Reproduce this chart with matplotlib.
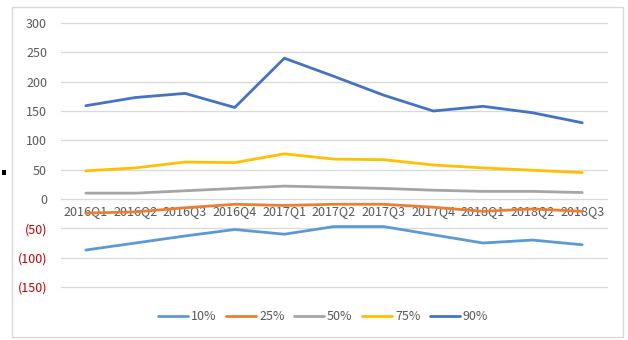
import matplotlib
matplotlib.use("Agg")
import matplotlib.pyplot as plt
from matplotlib.patches import Rectangle

categories = ["2016Q1", "2016Q2", "2016Q3", "2016Q4", "2017Q1", "2017Q2",
              "2017Q3", "2017Q4", "2018Q1", "2018Q2", "2018Q3"]
p10 = [-87, -75, -63, -52, -60, -47, -47, -61, -75, -70, -78]
p25 = [-24, -22, -15, -9, -11, -9, -9, -14, -21, -17, -21]
p50 = [10, 10, 14, 18, 22, 20, 18, 15, 13, 13, 11]
p75 = [48, 53, 63, 62, 77, 68, 67, 58, 53, 49, 45]
p90 = [159, 173, 180, 156, 240, 209, 177, 150, 158, 147, 130]
series_names = ["10%", "25%", "50%", "75%", "90%"]
colors = ["#5B9BD5", "#ED7D31", "#A5A5A5", "#FFC000", "#4472C4"]
yticks = [-150, -100, -50, 0, 50, 100, 150, 200, 250, 300]

plt.rcParams['font.family'] = ['Noto Sans CJK SC', 'DejaVu Sans']

fig = plt.figure(figsize=(6.28, 3.40), dpi=100)
fig.patch.set_facecolor("white")
# outer chart border
fig.patches.append(Rectangle((12/628, 1-337/340), (623-12)/628, (337-7)/340,
                             transform=fig.transFigure, fill=False,
                             edgecolor="#D9D9D9", linewidth=1.0))
fig.patches.append(Rectangle((2/628, 1-175/340), 4/628, 5/340,
                             transform=fig.transFigure, facecolor="black",
                             edgecolor="none"))

ax = fig.add_axes([61/628, 1-287/340, (607-61)/628, (287-23)/340])
x = list(range(len(categories)))
for vals, name, c in zip([p10, p25, p50, p75, p90], series_names, colors):
    ax.plot(x, vals, color=c, linewidth=2.0, label=name, solid_capstyle="round",
            solid_joinstyle="round")

ax.set_xlim(-0.5, len(categories) - 0.5)
ax.set_ylim(-150, 300)
ax.set_yticks(yticks)
ax.set_yticklabels([f"({abs(v)})" if v < 0 else str(v) for v in yticks])
for lbl, v in zip(ax.get_yticklabels(), yticks):
    lbl.set_color("#C00000" if v < 0 else "#595959")
ax.grid(axis="y", color="#D9D9D9", linewidth=0.9)
for gl in ax.get_ygridlines():
    gl.set_clip_on(False)
ax.set_axisbelow(True)
for s in ["top", "right", "left"]:
    ax.spines[s].set_visible(False)
ax.spines["bottom"].set_position(("data", 0))
ax.spines["bottom"].set_color("#D9D9D9")
ax.set_xticks(x)
ax.set_xticklabels(categories)
ax.tick_params(axis="x", length=0, pad=4, labelsize=9, labelcolor="#595959")
ax.tick_params(axis="y", length=0, pad=10, labelsize=9)

leg = ax.legend(loc="center", bbox_to_anchor=(0.48, -30/264), ncol=5, frameon=False,
                fontsize=9, handlelength=2.4, columnspacing=0.75, handletextpad=0.25)
for t in leg.get_texts():
    t.set_color("#595959")

fig.savefig("out.png", dpi=100, facecolor="white")
